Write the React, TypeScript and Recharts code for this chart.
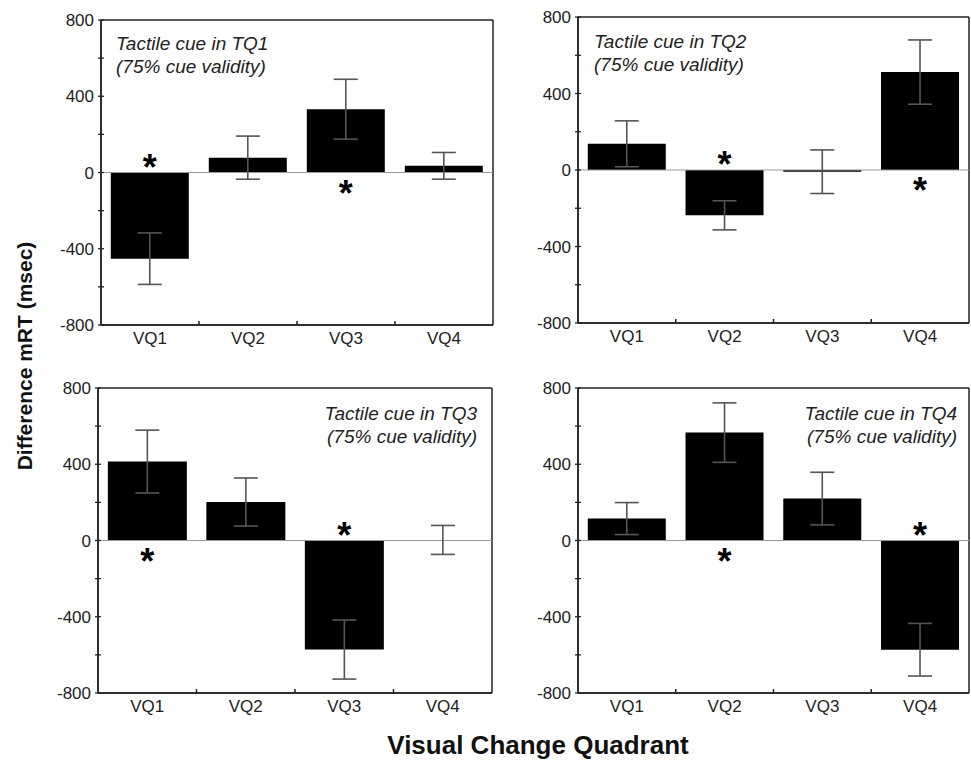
import React from 'react';
import { BarChart, Bar, XAxis, YAxis, ErrorBar, ReferenceLine, LabelList, CartesianGrid } from 'recharts';

const categories = ['VQ1', 'VQ2', 'VQ3', 'VQ4'];

const tq1Mean = [-452, 78, 332, 35];
const tq1Err = [135, 113, 157, 70];
const tq1Sig = [true, false, true, false];

const tq2Mean = [137, -237, -9, 512];
const tq2Err = [120, 76, 114, 168];
const tq2Sig = [false, true, false, true];

const tq3Mean = [414, 202, -572, 3];
const tq3Err = [165, 126, 155, 76];
const tq3Sig = [true, false, true, false];

const tq4Mean = [115, 566, 220, -573];
const tq4Err = [84, 156, 138, 138];
const tq4Sig = [false, true, false, true];

const yTicks = [-800, -600, -400, -200, 0, 200, 400, 600, 800];
const yLabelTicks = [-800, -400, 0, 400, 800];

const FONT = '"Liberation Sans", Arial, sans-serif';
const AXIS = '#222';

const build = (mean: number[], err: number[], sig: boolean[]) =>
  categories.map((name, i) => ({ name, value: mean[i], err: err[i], sig: sig[i] }));

const YTick = (props: any) => {
  const { x, y, payload } = props;
  const ax = x + 6;
  const major = yLabelTicks.includes(payload.value);
  return (
    <g>
      <line x1={ax - 3} x2={ax + 3} y1={y} y2={y} stroke={AXIS} strokeWidth={1.3} />
      {major && (
        <text x={x - 1} y={y} dy="0.36em" textAnchor="end" fontSize={17} fill="#222" fontFamily={FONT}>
          {payload.value}
        </text>
      )}
    </g>
  );
};

const makeXTick = (band: number) => (props: any) => {
  const { x, y, payload, index } = props;
  return (
    <g>
      {index > 0 && (
        <line x1={x - band / 2} x2={x - band / 2} y1={y} y2={y - 4} stroke={AXIS} strokeWidth={1.5} />
      )}
      <text x={x} y={y + 19} textAnchor="middle" fontSize={17} fill="#222" fontFamily={FONT}>
        {payload.value}
      </text>
    </g>
  );
};

const Star = (props: any) => {
  const { x, y, width, height, index, value, data } = props;
  if (!data[index].sig) return null;
  const zeroY = value >= 0 ? Math.max(y, y + height) : Math.min(y, y + height);
  const ty = value >= 0 ? zeroY + 33 : zeroY + 7;
  return (
    <text x={x + width / 2} y={ty} textAnchor="middle" fontSize={36} fontWeight="bold" fill="#000" fontFamily={FONT}>
      *
    </text>
  );
};

type PanelProps = {
  data: any[];
  left: number;
  top: number;
  width: number;
  height: number;
  margin: { top: number; right: number; left: number; bottom: number };
  title: string;
  align: 'left' | 'right';
  textX: number;
  textY: number;
};

const Panel = ({ data, left, top, width, height, margin, title, align, textX, textY }: PanelProps) => {
  const plotW = width - margin.left - margin.right - 50;
  const XTick = makeXTick(plotW / 4);
  return (
    <div style={{ position: 'absolute', left, top, width, height }}>
      <BarChart width={width} height={height} data={data} margin={margin} barCategoryGap="10%">
        <CartesianGrid
          stroke={AXIS}
          strokeWidth={1.5}
          horizontalCoordinatesGenerator={({ offset }: any) => [offset.top, offset.top + offset.height]}
          verticalCoordinatesGenerator={({ offset }: any) => [offset.left, offset.left + offset.width]}
        />
        <XAxis
          dataKey="name"
          height={25}
          tick={<XTick />}
          tickLine={false}
          tickSize={0}
          tickMargin={0}
          interval={0}
          axisLine={{ stroke: AXIS, strokeWidth: 1.5 }}
        />
        <YAxis
          width={50}
          domain={[-800, 800]}
          ticks={yTicks}
          interval={0}
          tick={<YTick />}
          tickLine={false}
          tickSize={0}
          tickMargin={6}
          axisLine={{ stroke: AXIS, strokeWidth: 1.5 }}
        />
        <ReferenceLine y={0} stroke="#999" strokeWidth={1} />
        <Bar dataKey="value" fill="#000" isAnimationActive={false}>
          <ErrorBar dataKey="err" width={12} stroke="#555" strokeWidth={1.6} />
          <LabelList dataKey="value" content={(p: any) => <Star {...p} data={data} />} />
        </Bar>
      </BarChart>
      <div
        style={{
          position: 'absolute',
          top: textY,
          left: align === 'left' ? textX : undefined,
          right: align === 'right' ? width - textX : undefined,
          textAlign: align,
          fontFamily: FONT,
          fontStyle: 'italic',
          fontSize: 19,
          lineHeight: '23px',
          color: '#222',
          whiteSpace: 'nowrap',
        }}
      >
        <div>{`Tactile cue in ${title}`}</div>
        <div>(75% cue validity)</div>
      </div>
    </div>
  );
};

export default function App() {
  return (
    <div style={{ position: 'absolute', left: 0, top: 0, width: 971, height: 763, background: '#fff', fontFamily: FONT }}>
      <Panel
        data={build(tq1Mean, tq1Err, tq1Sig)}
        left={0}
        top={0}
        width={500}
        height={350}
        margin={{ top: 20, right: 7, left: 51, bottom: 0 }}
        title="TQ1"
        align="left"
        textX={116}
        textY={32}
      />
      <Panel
        data={build(tq2Mean, tq2Err, tq2Sig)}
        left={500}
        top={0}
        width={471}
        height={350}
        margin={{ top: 17, right: 2, left: 28, bottom: 2 }}
        title="TQ2"
        align="left"
        textX={94}
        textY={30}
      />
      <Panel
        data={build(tq3Mean, tq3Err, tq3Sig)}
        left={0}
        top={350}
        width={500}
        height={413}
        margin={{ top: 38, right: 8, left: 48, bottom: 45 }}
        title="TQ3"
        align="right"
        textX={477}
        textY={52}
      />
      <Panel
        data={build(tq4Mean, tq4Err, tq4Sig)}
        left={500}
        top={350}
        width={471}
        height={413}
        margin={{ top: 38, right: 2, left: 28, bottom: 45 }}
        title="TQ4"
        align="right"
        textX={457}
        textY={52}
      />
      <div
        style={{
          position: 'absolute',
          left: 25,
          top: 356,
          transform: 'translate(-50%, -50%) rotate(-90deg)',
          whiteSpace: 'nowrap',
          fontFamily: FONT,
          fontWeight: 'bold',
          fontSize: 21,
          color: '#111',
        }}
      >
        Difference mRT (msec)
      </div>
      <div
        style={{
          position: 'absolute',
          left: 538,
          top: 745,
          transform: 'translate(-50%, -50%)',
          whiteSpace: 'nowrap',
          fontFamily: FONT,
          fontWeight: 'bold',
          fontSize: 26,
          color: '#111',
        }}
      >
        Visual Change Quadrant
      </div>
    </div>
  );
}
